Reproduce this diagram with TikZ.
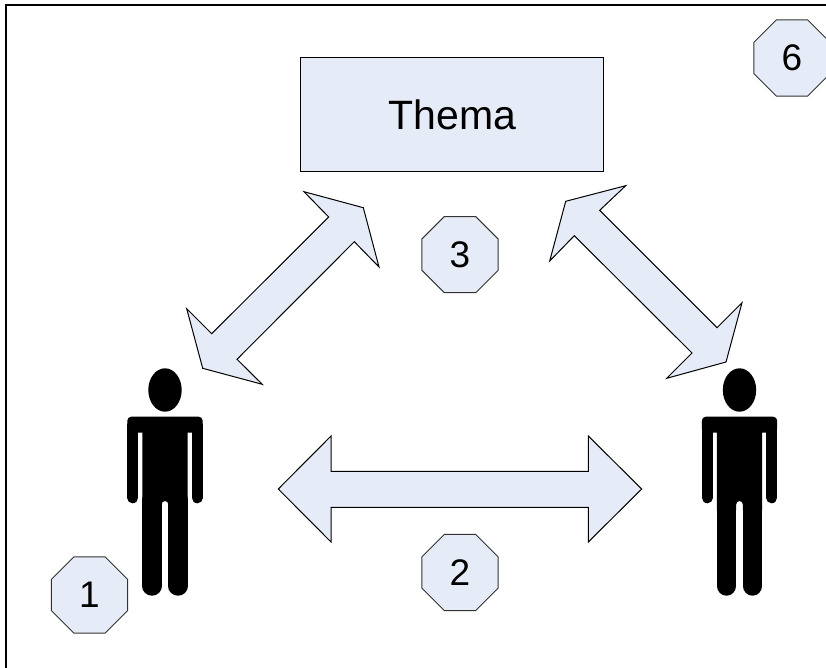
\documentclass[tikz,border=0pt]{standalone}
\usepackage{fontspec}
\setmainfont{Liberation Sans}
\usetikzlibrary{shapes.geometric}
\definecolor{pale blue}{rgb}{0.902, 0.925, 0.969}
\tikzset{
	block/.style = {draw = black, line width = 1pt, fill = pale blue, line join = miter},
	topic/.style = {block, rectangle, inner sep = 0, minimum width = 303pt, minimum height = 114pt, font = \fontsize{41}{44}\selectfont},
	badge/.style = {block, draw = black!80, regular polygon, regular polygon sides = 8, inner sep = 0, minimum size = 82.3pt, font = \fontsize{37}{40}\selectfont},
	arm/.style = {line width = 11pt, line cap = round},
	leg/.style = {line width = 19.4pt, line cap = round}
}
\begin{document}
\begin{tikzpicture}[x = 1pt, y = -1pt]
			\useasboundingbox (0, 0) rectangle (826, 668);
			% outline
			\draw[line width = 2.5pt] (6, 668) -- (6, 5) -- (826, 5);
			% topic and numbers
			\node[topic] (thema) at (452.2, 114.7) {Thema};
			\node[badge] (one) at (89.5, 595) {1};
			\node[badge] (two) at (460, 572.5) {2};
			\node[badge] (three) at (460, 254.7) {3};
			\node[badge] (six) at (792, 58) {6};
			% left hand
			\draw[block] (304, 191.7) -- (363.3, 207.7) -- (379, 267) -- (354.3, 241.7)
				-- (237, 359.3) -- (262.3, 384.3) -- (202.7, 368.3) -- (186.7, 308.7)
				-- (211.7, 333.7) -- (328.7, 217) -- cycle;
			% right hand
			\draw[block] (625.7, 185.7) -- (565.7, 201.3) -- (549.7, 261) -- (574.3, 235.7)
				-- (692, 353) -- (666.7, 378.3) -- (726, 362) -- (742, 302.7)
				-- (717, 327.7) -- (599.7, 210.3) -- cycle;
			% bottom
			\draw[block] (278.3, 489) -- (331, 436) -- (331, 471.3) -- (588.3, 471.3)
				-- (588.3, 436) -- (641.7, 489) -- (588.3, 542) -- (588.3, 507.3)
				-- (331, 507.3) -- (331, 542) -- cycle;
			% people
			\foreach \shift in {0, 574.5} {
				\begin{scope}[xshift = \shift]
					\fill (165, 390) ellipse (16.7 and 21.7);
					\fill[rounded corners = 4] (127.3, 416.7) rectangle (202.7, 432.7);
					\fill (142.3, 420) -- (187.7, 420) -- (187.7, 510) -- (168.3, 510)
						-- (168.3, 504.3) arc (0:180:3.3pt) -- (161.7, 510) -- (142.3, 510) -- cycle;
					\draw[arm] (132.8, 425) -- (132.8, 497.8);
					\draw[arm] (197.2, 425) -- (197.2, 497.8);
					\draw[leg] (152, 500) -- (152, 586);
					\draw[leg] (178, 500) -- (178, 586);
				\end{scope}
			}
		\end{tikzpicture}
\end{document}
